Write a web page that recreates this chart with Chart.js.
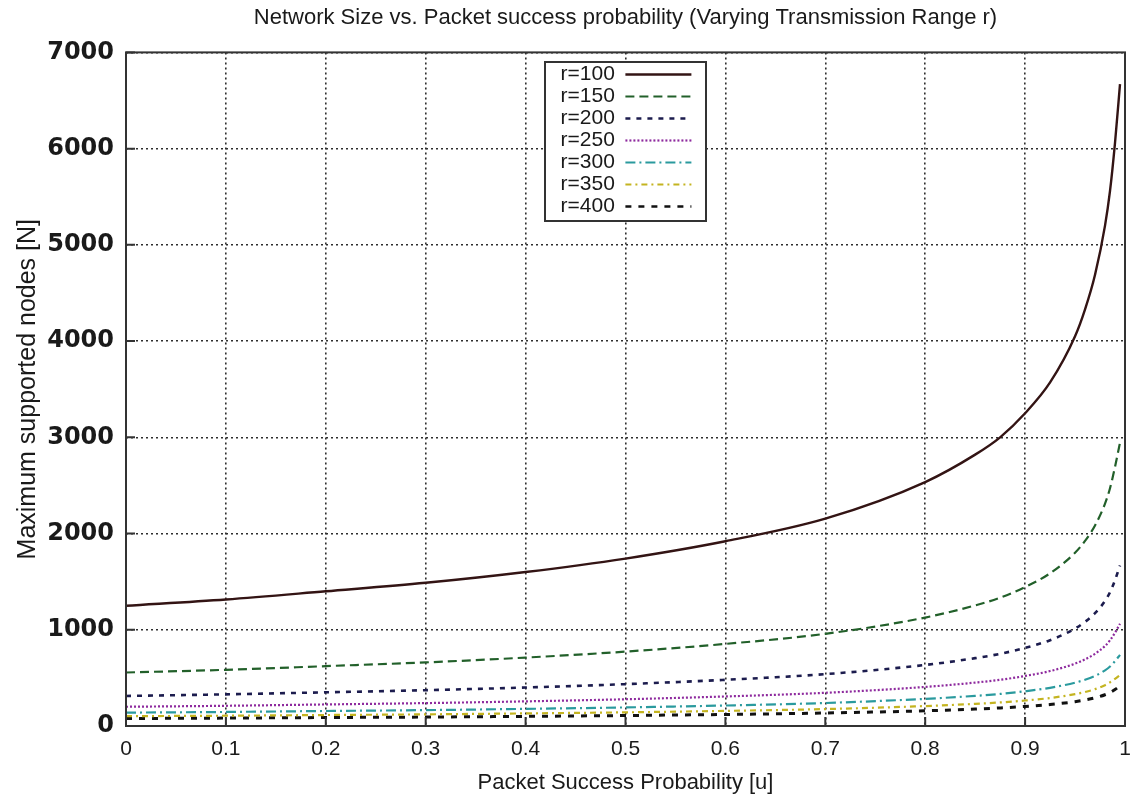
<!DOCTYPE html>
<html>
<head>
<meta charset="utf-8">
<title>Network Size vs. Packet success probability</title>
<script src="https://cdn.jsdelivr.net/npm/chart.js@4.4.1/dist/chart.umd.min.js"></script>
<style>
  html, body { margin: 0; padding: 0; background: #fff; }
  #wrap { width: 1134px; height: 802px; }
</style>
</head>
<body>
<div id="wrap"><canvas id="sizeChart" width="1134" height="802"></canvas></div>
<script>
// packet success probability samples (denser near 1 where the curves blow up)
const uValues = [0, 0.1, 0.2, 0.3, 0.4, 0.5, 0.6, 0.7, 0.8, 0.85, 0.875, 0.9, 0.925, 0.95, 0.96, 0.97, 0.98, 0.985, 0.99, 0.995];

// maximum supported nodes N for each transmission range r
const nR100 = [1250, 1315, 1400, 1488, 1600, 1740, 1920, 2155, 2535, 2820, 3000, 3250, 3570, 4050, 4330, 4690, 5200, 5560, 6060, 6670];
const nR150 = [556, 584, 622, 661, 711, 773, 853, 958, 1127, 1253, 1333, 1444, 1587, 1800, 1924, 2084, 2311, 2471, 2693, 2945];
const nR200 = [312, 329, 350, 372, 400, 435, 480, 539, 634, 705, 750, 812, 892, 1012, 1082, 1172, 1300, 1390, 1515, 1668];
const nR250 = [200, 210, 224, 238, 256, 278, 307, 345, 406, 451, 480, 520, 571, 648, 693, 750, 832, 890, 970, 1062];
const nR300 = [139, 146, 156, 165, 178, 193, 213, 239, 282, 313, 333, 361, 397, 450, 481, 521, 578, 618, 673, 739];
const nR350 = [102, 107, 114, 121, 131, 142, 157, 176, 207, 230, 245, 265, 291, 331, 353, 383, 424, 454, 490, 530];
const nR400 = [78, 82, 88, 93, 100, 109, 120, 135, 158, 176, 188, 203, 223, 253, 271, 293, 325, 348, 379, 416];

const seriesLabels = ['r=100', 'r=150', 'r=200', 'r=250', 'r=300', 'r=350', 'r=400'];
const seriesValues = [nR100, nR150, nR200, nR250, nR300, nR350, nR400];

const lineStyles = [
  { color: '#331414', width: 2.4, dash: [] },
  { color: '#22602a', width: 2.2, dash: [9, 5] },
  { color: '#1c1c4e', width: 2.6, dash: [5, 6] },
  { color: '#8e2a9e', width: 2.2, dash: [2, 2] },
  { color: '#2a9a9e', width: 2.2, dash: [10, 4, 2, 4] },
  { color: '#c4b420', width: 2.2, dash: [6, 4, 2, 4] },
  { color: '#111111', width: 3, dash: [6, 7] }
];

const FONT = '"Liberation Sans", Arial, Helvetica, sans-serif';
const INK = '#1a1a1a';
const KEY_SIZE = 21;
const KEY_PAD = 1;

const datasets = seriesLabels.map((label, i) => ({
  label,
  data: uValues.map((u, k) => ({ x: u, y: seriesValues[i][k] })),
  borderColor: lineStyles[i].color,
  backgroundColor: lineStyles[i].color,
  borderWidth: lineStyles[i].width,
  borderDash: lineStyles[i].dash,
  pointRadius: 0,
  fill: false,
  cubicInterpolationMode: 'monotone'
}));

// key samples should carry each line's own dash pattern
function keyItems(chart) {
  const items = Chart.defaults.plugins.legend.labels.generateLabels(chart);
  items.forEach(item => {
    const ds = chart.data.datasets[item.datasetIndex];
    item.lineDash = ds.borderDash;
    item.lineWidth = Math.min(ds.borderWidth, 2.4);
    item.strokeStyle = ds.borderColor;
  });
  return items;
}

// frame, inward tick marks and the boxed key near the top of the plot
const plotFrame = {
  id: 'plotFrame',
  afterLayout(chart) {
    const lg = chart.legend;
    const cx = chart.scales.x.getPixelForValue(0.5);
    const w = lg.width;
    const h = lg.legendItems.length * (KEY_SIZE + KEY_PAD) + KEY_PAD + 1;
    lg.left = cx - w / 2 - 4;
    lg.right = lg.left + w;
    lg.top = 63;
    lg.height = h;
    lg.bottom = lg.top + h;
    if (!lg._boxed) {
      const drawKey = lg.draw.bind(lg);
      lg.draw = function (area) {
        const ctx = chart.ctx;
        const bx = Math.round(lg.left - 6), by = Math.round(lg.top) - 1;
        const bw = Math.round(lg.width + 19), bh = Math.round(lg.height) + 3;
        ctx.save();
        ctx.fillStyle = '#fff';
        ctx.strokeStyle = '#333';
        ctx.lineWidth = 2;
        ctx.fillRect(bx, by, bw, bh);
        ctx.strokeRect(bx, by, bw, bh);
        ctx.restore();
        drawKey(area);
      };
      lg._boxed = true;
    }
  },
  afterDraw(chart) {
    const { ctx, chartArea: a, scales } = chart;
    ctx.save();
    ctx.strokeStyle = '#333';
    ctx.lineWidth = 2;
    ctx.beginPath();
    scales.x.ticks.forEach(t => {
      const px = scales.x.getPixelForValue(t.value);
      ctx.moveTo(px, a.bottom);
      ctx.lineTo(px, a.bottom - 9);
    });
    scales.y.ticks.forEach(t => {
      const py = scales.y.getPixelForValue(t.value);
      ctx.moveTo(a.left, py);
      ctx.lineTo(a.left + 9, py);
    });
    ctx.stroke();
    ctx.strokeRect(a.left, a.top, a.right - a.left, a.bottom - a.top);
    ctx.restore();
  }
};

new Chart(document.getElementById('sizeChart'), {
  type: 'line',
  data: { datasets },
  plugins: [plotFrame],
  options: {
    responsive: false,
    animation: false,
    layout: { padding: { left: 0, right: 9, top: 0, bottom: 0 } },
    plugins: {
      title: {
        display: true,
        text: 'Network Size vs. Packet success probability (Varying Transmission Range r)',
        color: INK,
        fullSize: false,
        font: { family: FONT, size: 22, weight: 'normal', lineHeight: 1.2 },
        padding: { top: 5, bottom: 21 }
      },
      legend: {
        position: 'chartArea',
        align: 'start',
        rtl: true,
        labels: {
          color: INK,
          font: { family: FONT, size: KEY_SIZE },
          usePointStyle: true,
          pointStyle: 'line',
          pointStyleWidth: 66,
          padding: KEY_PAD,
          generateLabels: keyItems
        }
      },
      tooltip: { enabled: false }
    },
    scales: {
      x: {
        type: 'linear',
        min: 0,
        max: 1,
        afterFit(scale) {
          scale.height = 76;
          scale.paddingLeft = 0;
          scale.paddingRight = 0;
        },
        ticks: {
          stepSize: 0.1,
          color: INK,
          padding: 11,
          maxRotation: 0,
          callback: v => String(Math.round(v * 10) / 10),
          font: { family: FONT, size: 21 }
        },
        grid: { color: '#2e2e2e', lineWidth: 1.6, drawTicks: false, z: -1 },
        border: { display: false, dash: [2, 3] },
        title: {
          display: true,
          text: 'Packet Success Probability [u]',
          color: INK,
          font: { family: FONT, size: 22, lineHeight: 1.2 },
          padding: { top: 0, bottom: 6 }
        }
      },
      y: {
        min: 0,
        max: 7000,
        afterFit(scale) { scale.width = 126; },
        ticks: {
          stepSize: 1000,
          color: INK,
          padding: 12,
          callback: v => String(v),
          font: { family: '"DejaVu Sans", sans-serif', size: 24, weight: 'bold' }
        },
        grid: { color: '#2e2e2e', lineWidth: 1.6, drawTicks: false, z: -1 },
        border: { display: false, dash: [2, 3] },
        title: {
          display: true,
          text: 'Maximum supported nodes [N]',
          color: INK,
          font: { family: FONT, size: 25, lineHeight: 1.2 },
          padding: { top: 13, bottom: 0 }
        }
      }
    }
  }
});
</script>
</body>
</html>
